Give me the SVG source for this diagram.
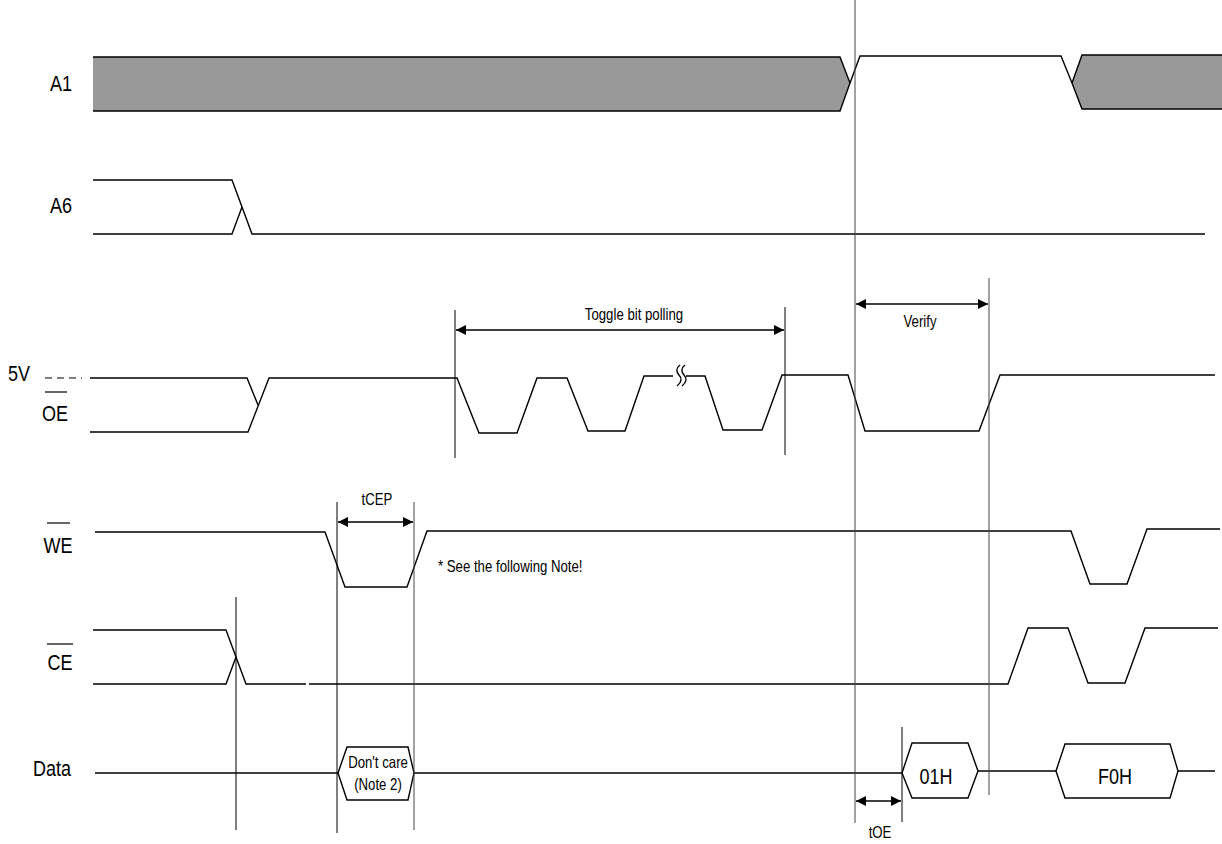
<svg xmlns="http://www.w3.org/2000/svg" width="1222" height="844" viewBox="0 0 1222 844">
<style>
.w{fill:none;stroke:#000;stroke-width:1.4;stroke-linejoin:miter}
.g{fill:none;stroke:#444;stroke-width:1}
.gb{fill:none;stroke:#000;stroke-width:1}
.a{fill:none;stroke:#000;stroke-width:1.3}
.big{font-family:"Liberation Sans",Arial,sans-serif;font-size:22px;fill:#000;text-anchor:middle}
.sm{font-family:"Liberation Sans",Arial,sans-serif;font-size:16.5px;fill:#000;text-anchor:middle}
.st{text-anchor:start}
.bar{fill:none;stroke:#000;stroke-width:1.2}
</style>
<defs>
<marker id="ah" viewBox="0 0 10 10" refX="10" refY="5" markerWidth="14" markerHeight="10" markerUnits="userSpaceOnUse" orient="auto-start-reverse">
<path d="M0,0 L10,5 L0,10 z" fill="#000"/>
</marker>
</defs>
<rect width="1222" height="844" fill="#fff"/>

<g id="sig-A1">
<polygon points="93,57 840,57 850,83 840,111 93,111" fill="#999"/>
<polyline class="w" points="93,57 840,57 850,83 840,111 93,111"/>
<polyline class="w" points="850,83 860,56 1061,56 1072,83"/>
<polygon points="1072,83 1082,55 1222,55 1222,109 1082,109" fill="#999"/>
<polyline class="w" points="1222,55 1082,55 1072,83 1082,109 1222,109"/>
<text class="big" transform="translate(61,91) scale(0.82,1)">A1</text>
</g>

<g id="sig-A6">
<polyline class="w" points="93,180 232,180 252,234 1205,234"/>
<polyline class="w" points="93,234 232,234 242,207"/>
<text class="big" transform="translate(61,213) scale(0.82,1)">A6</text>
</g>

<g id="sig-OE">
<line x1="45" y1="378" x2="82" y2="378" stroke="#000" stroke-width="1.2" stroke-dasharray="7,5"/>
<text class="big" transform="translate(19,381) scale(0.82,1)">5V</text>
<line class="bar" x1="45" y1="392" x2="67" y2="392"/>
<text class="big" transform="translate(55,421) scale(0.82,1)">OE</text>
<polyline class="w" points="90,378 247,378 258,405"/>
<polyline class="w" points="90,432 248,432 269,378 457,378 479,433 517,433 537,378 567,378 588,431 625,431 644,376 673,376"/>
<path class="w" d="M680,365 C676,368 676,372 679,375 C682,378 682,382 677,386 M685,365 C681,368 681,372 684,375 C687,378 687,382 682,386" stroke-width="1.1"/>
<polyline class="w" points="686,376 705,376 723,430 762,430 782,375 848,375 865,431 979,431 1000,375 1215,375"/>
</g>

<g id="sig-WE">
<line class="bar" x1="47" y1="523" x2="70" y2="523"/>
<text class="big" transform="translate(58,553) scale(0.82,1)">WE</text>
<polyline class="w" points="95,532 325,532 345,587 407,587 427,531 1071,531 1090,584 1127,584 1147,529 1220,529"/>
<text class="sm st" transform="translate(438,572) scale(0.8,1)">* See the following Note!</text>
</g>

<g id="sig-CE">
<line class="bar" x1="47" y1="644" x2="73" y2="644"/>
<text class="big" transform="translate(60,670) scale(0.82,1)">CE</text>
<polyline class="w" points="93,630 226,630 246,684 306,684"/>
<polyline class="w" points="93,684 226,684 236,657"/>
<polyline class="w" points="309,684 1008,684 1028,628 1068,628 1088,683 1125,683 1145,628 1218,628"/>
</g>

<g id="sig-Data">
<text class="big" transform="translate(52,776) scale(0.82,1)">Data</text>
<polyline class="w" points="95,773 338,773"/>
<polygon class="w" points="338,773 347,747 408,747 414,773 408,800 347,800"/>
<text class="sm" transform="translate(378,768) scale(0.8,1)">Don't care</text>
<text class="sm" transform="translate(378,790) scale(0.8,1)">(Note 2)</text>
<polyline class="w" points="414,773 902,773"/>
<polygon class="w" points="902,773 912,743 968,743 978,771 968,798 912,798"/>
<text class="big" transform="translate(936,784) scale(0.82,1)">01H</text>
<polyline class="w" points="978,771 1056,771"/>
<polygon class="w" points="1056,771 1065,744 1170,744 1178,771 1170,798 1065,798"/>
<text class="big" transform="translate(1115,784) scale(0.82,1)">F0H</text>
<polyline class="w" points="1178,771 1215,771"/>
</g>

<g id="connectors">
<line class="g" x1="855" y1="0" x2="855" y2="823"/>
<line class="gb" x1="236" y1="597" x2="236" y2="830"/>
<line class="gb" x1="337" y1="502" x2="337" y2="833"/>
<line class="g" x1="414" y1="502" x2="414" y2="830"/>
<line class="gb" x1="455" y1="310" x2="455" y2="458"/>
<line class="gb" x1="785" y1="307" x2="785" y2="455"/>
<line class="g" x1="989" y1="278" x2="989" y2="795"/>
<line class="gb" x1="902" y1="727" x2="902" y2="822"/>
<line class="a" x1="456" y1="330" x2="784" y2="330" marker-start="url(#ah)" marker-end="url(#ah)"/>
<text class="sm" transform="translate(634,320) scale(0.8,1)">Toggle bit polling</text>
<line class="a" x1="856" y1="304" x2="988" y2="304" marker-start="url(#ah)" marker-end="url(#ah)"/>
<text class="sm" transform="translate(920,327) scale(0.8,1)">Verify</text>
<line class="a" x1="338" y1="522" x2="413" y2="522" marker-start="url(#ah)" marker-end="url(#ah)"/>
<text class="sm" transform="translate(377,505) scale(0.8,1)">tCEP</text>
<line class="a" x1="856" y1="801" x2="901" y2="801" marker-start="url(#ah)" marker-end="url(#ah)"/>
<text class="sm" transform="translate(880,838) scale(0.8,1)">tOE</text>
</g>
</svg>
